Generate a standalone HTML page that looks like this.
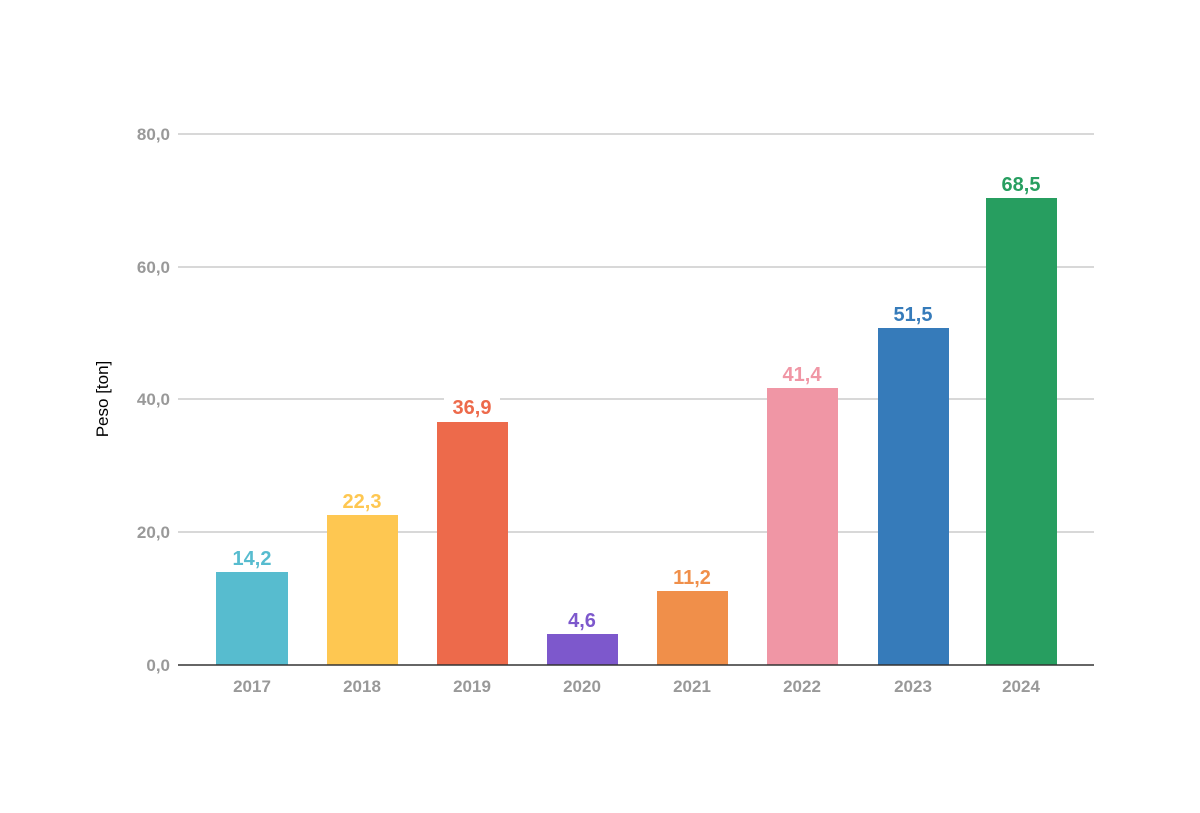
<!DOCTYPE html>
<html><head><meta charset="utf-8"><style>
body{margin:0;background:#fff;}
svg text{font-family:"Liberation Sans Narrow","Liberation Sans",sans-serif;font-weight:bold;}
</style></head><body>
<svg width="1200" height="808" viewBox="0 0 1200 808" xmlns="http://www.w3.org/2000/svg">
<g stroke="#cccccc" stroke-width="1.5">
<line x1="178" y1="134" x2="1094" y2="134"/>
<line x1="178" y1="267" x2="1094" y2="267"/>
<line x1="178" y1="399" x2="1094" y2="399"/>
<line x1="178" y1="532" x2="1094" y2="532"/>
</g>
<g fill="#999" font-size="17" text-anchor="end">
<text x="170" y="140">80,0</text>
<text x="170" y="273">60,0</text>
<text x="170" y="405">40,0</text>
<text x="170" y="538">20,0</text>
<text x="170" y="671">0,0</text>
</g>
<text transform="translate(108,399) rotate(-90)" text-anchor="middle" font-size="17" fill="#000" style="font-weight:normal">Peso [ton]</text>
<rect x="216" y="572" width="72" height="93" fill="#57bccf"/>
<rect x="327" y="515" width="71" height="150" fill="#fec751"/>
<rect x="437" y="422" width="71" height="243" fill="#ed6a4b"/>
<rect x="547" y="634" width="71" height="31" fill="#7d58cc"/>
<rect x="657" y="591" width="71" height="74" fill="#f08f4a"/>
<rect x="767" y="388" width="71" height="277" fill="#f096a5"/>
<rect x="878" y="328" width="71" height="337" fill="#367bba"/>
<rect x="986" y="198" width="71" height="467" fill="#279e60"/>
<line x1="178" y1="665" x2="1094" y2="665" stroke="#333" stroke-width="1.5"/>
<rect x="444" y="391" width="56" height="22" fill="#fff"/>
<g font-size="20" text-anchor="middle">
<text x="252" y="565" fill="#57bccf">14,2</text>
<text x="362" y="508" fill="#fec751">22,3</text>
<text x="472" y="414" fill="#ed6a4b">36,9</text>
<text x="582" y="627" fill="#7d58cc">4,6</text>
<text x="692" y="584" fill="#f08f4a">11,2</text>
<text x="802" y="381" fill="#f096a5">41,4</text>
<text x="913" y="321" fill="#367bba">51,5</text>
<text x="1021" y="191" fill="#279e60">68,5</text>
</g>
<g fill="#999" font-size="17" text-anchor="middle">
<text x="252" y="692">2017</text>
<text x="362" y="692">2018</text>
<text x="472" y="692">2019</text>
<text x="582" y="692">2020</text>
<text x="692" y="692">2021</text>
<text x="802" y="692">2022</text>
<text x="913" y="692">2023</text>
<text x="1021" y="692">2024</text>
</g>
</svg>
</body></html>
